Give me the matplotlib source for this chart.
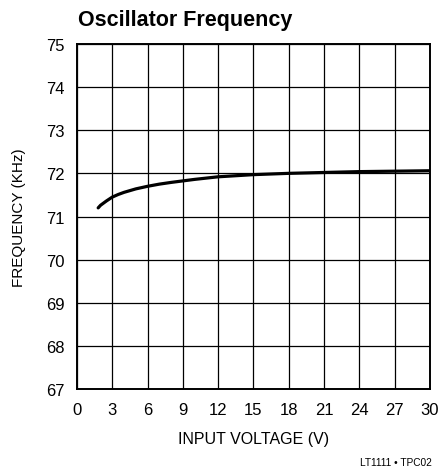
import matplotlib
matplotlib.use("Agg")
import matplotlib.pyplot as plt

# data
voltage = [1.8, 2.0, 2.5, 3, 3.5, 4, 4.5, 5, 6, 7, 8, 10, 12, 15, 18, 21, 24, 27, 30]
freq_khz = [71.2, 71.26, 71.36, 71.45, 71.51, 71.56, 71.6, 71.64, 71.7, 71.75,
            71.79, 71.86, 71.92, 71.97, 72.0, 72.02, 72.04, 72.05, 72.06]
x_ticks = list(range(0, 31, 3))
y_ticks = list(range(67, 76))

plt.rcParams['font.family'] = ['Liberation Sans', 'DejaVu Sans']

fig = plt.figure(figsize=(4.4, 4.77), dpi=100)
ax = fig.add_axes([0.175, 0.182, 0.802, 0.724])

ax.plot(voltage, freq_khz, color='black', lw=2.3, solid_capstyle='round')

ax.set_xlim(0, 30)
ax.set_ylim(67, 75)
ax.set_xticks(x_ticks)
ax.set_yticks(y_ticks)
ax.tick_params(length=0, labelsize=12, pad=9)
ax.grid(True, color='black', lw=0.9)
for s in ax.spines.values():
    s.set_linewidth(1.4)

ax.set_xlabel('INPUT VOLTAGE (V)', fontsize=11.5, labelpad=10)
ax.set_ylabel('FREQUENCY (KHz)', fontsize=11, labelpad=14)
fig.text(0.177, 0.957, 'Oscillator Frequency', fontsize=15.5, fontweight='bold',
         ha='left', va='center')
fig.text(0.982, 0.029, 'LT1111 \u2022 TPC02', fontsize=7.3, ha='right', va='center')

fig.savefig('out.png', dpi=100)
